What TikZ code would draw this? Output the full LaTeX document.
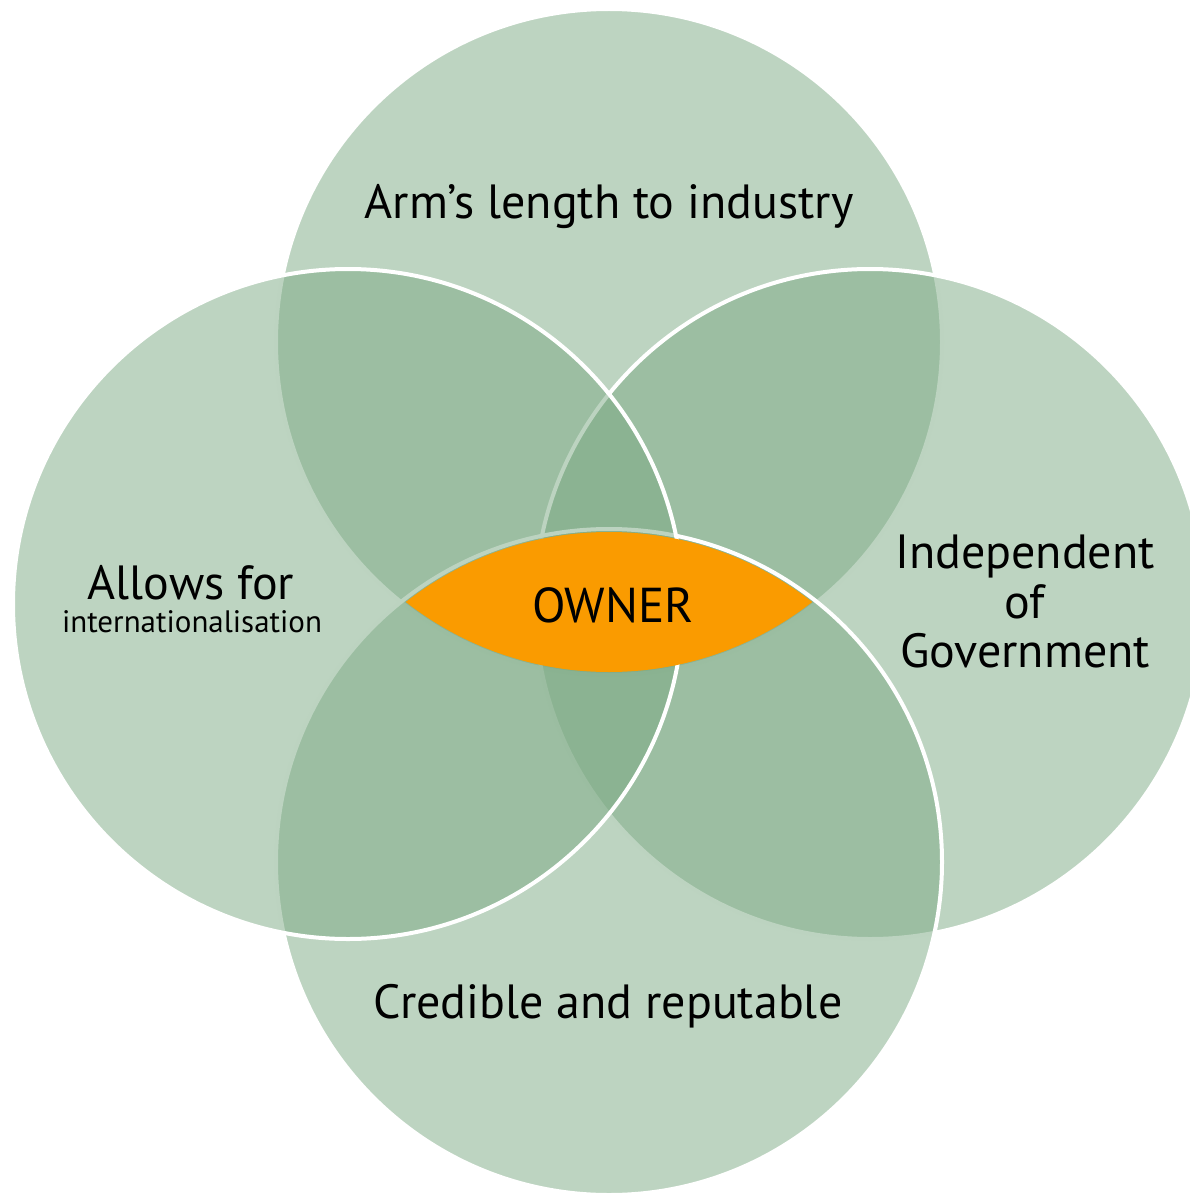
\documentclass[tikz,border=0pt]{standalone}
\usepackage{fontspec}
\setmainfont{PT Sans}
\definecolor{venn}{RGB}{123,169,131}
\definecolor{owner}{RGB}{250,155,0}
\tikzset{
  vcircle/.style={fill=venn, fill opacity=0.5, draw=white, line width=4pt},
  biglbl/.style={font=\fontsize{48}{50}\selectfont, text=black, inner sep=0pt, anchor=base},
  smalllbl/.style={font=\fontsize{31}{33}\selectfont, text=black, inner sep=0pt, anchor=base}
}
\begin{document}
\begin{tikzpicture}[x=1pt,y=-1pt]
\useasboundingbox (0,0) rectangle (1190,1196);
\clip (0,0) rectangle (1190,1196);
\path[vcircle] (609,342) circle[radius=333];
\path[vcircle] (870,604) circle[radius=335];
\path[vcircle] (609,862) circle[radius=333];
\path[vcircle] (348,604) circle[radius=335];
\begin{scope}
  \clip (609,342) circle[radius=330];
  \fill[owner] (609,862) circle[radius=330];
\end{scope}
\node[biglbl, text depth=0pt] (allows) at (191,599) {Allows for};
\node[smalllbl, text height=22pt] (intl) at (192,632) {internationalisation};
\node[biglbl] (arm) at (609,218) {Arm’s length to industry};
\node[biglbl] (indep) at (1025,568) {Independent};
\node[biglbl] (of) at (1025,618) {of};
\node[biglbl] (gov) at (1025,667) {Government};
\node[biglbl, font=\fontsize{49}{51}\selectfont] (owner) at (613,622) {OWNER};
\node[biglbl] (cred) at (608,1018) {Credible and reputable};
\end{tikzpicture}
\end{document}
